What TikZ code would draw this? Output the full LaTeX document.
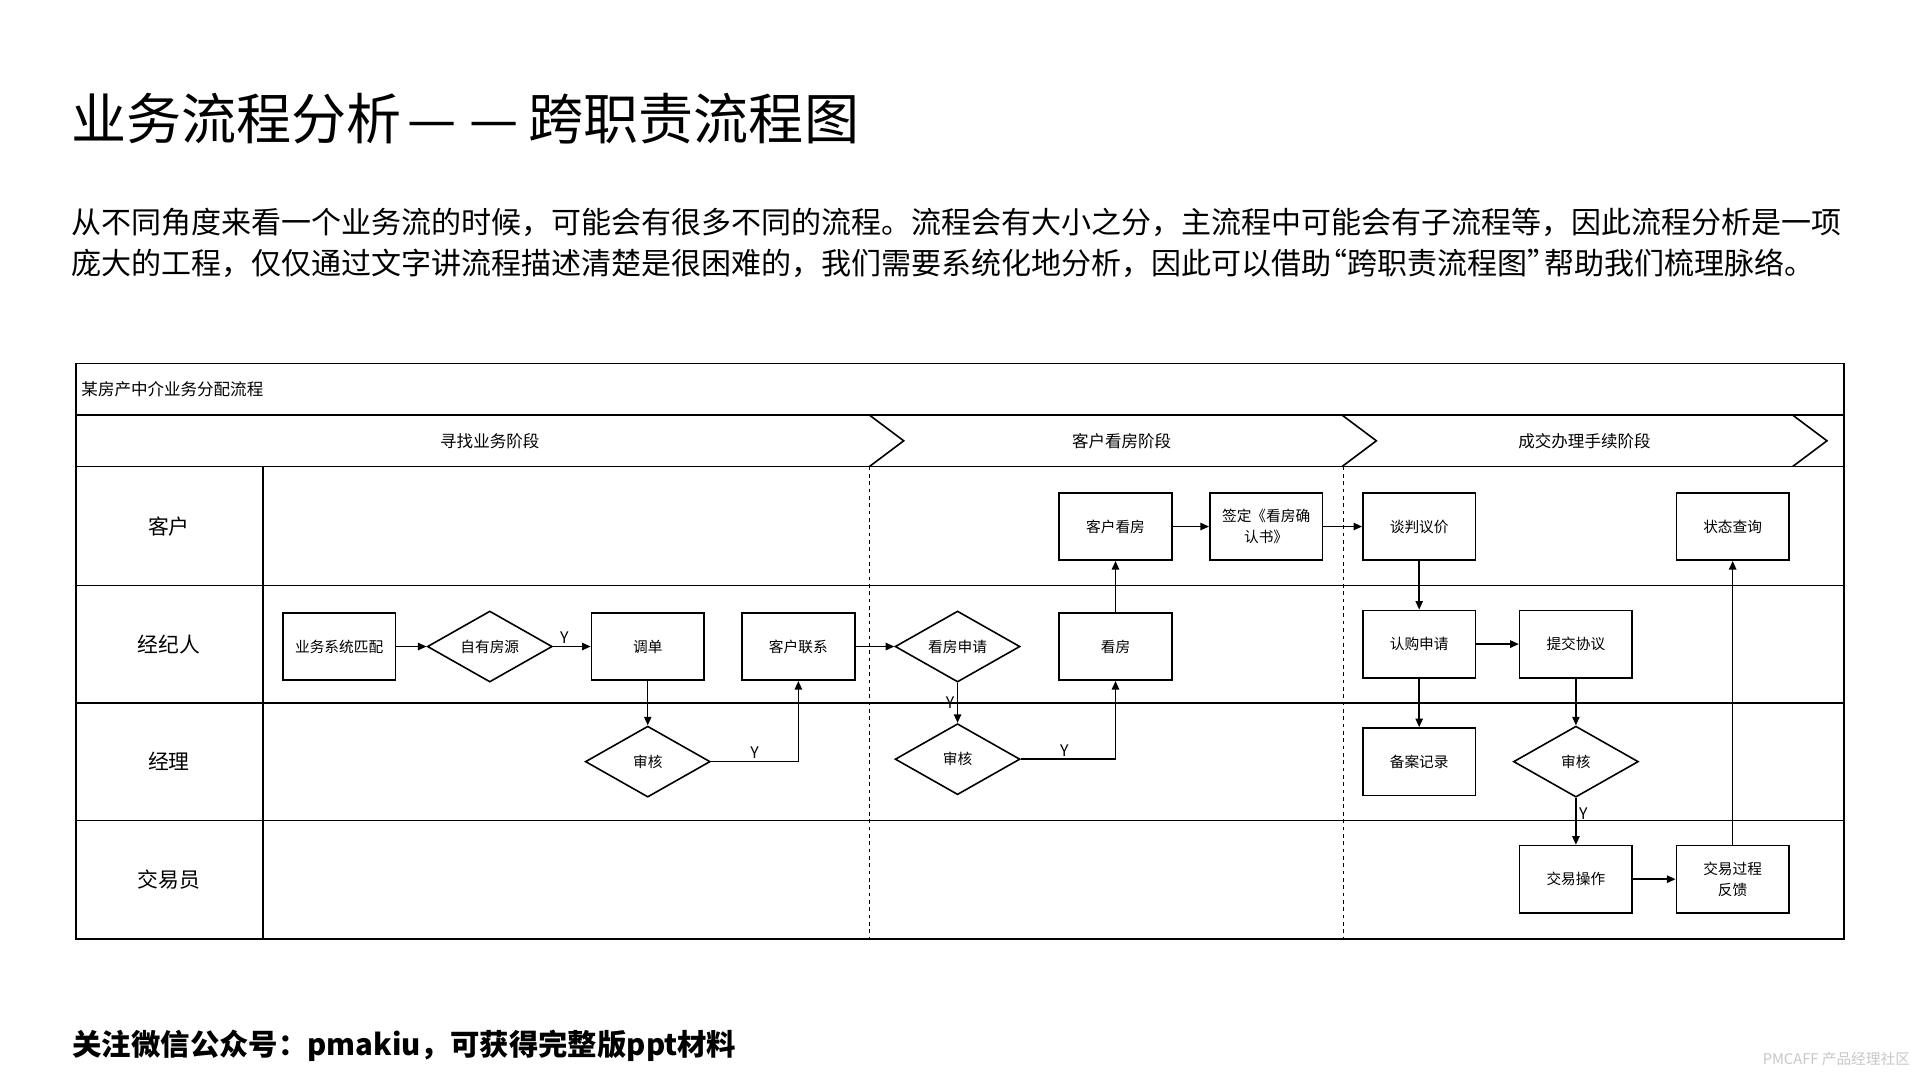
\documentclass[tikz,border=0pt]{standalone}
\usepackage{fontspec}
\setmainfont{Noto Sans CJK SC}
\usetikzlibrary{positioning, shapes.geometric, arrows.meta}
\tikzset{
    Arrow/.style = {
        line width=1.2pt,
        -{Triangle[length=7pt, width=6pt]}
    },
    task/.style = {draw, line width=1.3pt, minimum width=92pt, minimum height=55pt,
        align=center, inner sep=2pt, font=\fontsize{12}{17}\selectfont},
    check/.style = {draw, diamond, line width=1.3pt, aspect=1.76, inner sep=0pt,
        minimum width=102pt, minimum height=58pt, font=\fontsize{12}{15}\selectfont},
    lanename/.style = {font=\fontsize{17}{20}\selectfont},
    phasename/.style = {font=\fontsize{13.5}{16}\selectfont},
    frameline/.style = {line width=1.3pt},
    yes/.style = {inner sep=2pt, font=\fontsize{13}{15}\selectfont}
}

\begin{document}
\begin{tikzpicture}[x=1pt, y=-1pt]
    \useasboundingbox (0,0) rectangle (1568,882);
    % heading and text
    \node[anchor=west, inner sep=0, font=\fontsize{45}{50}\selectfont] (title) at (58,97) {业务流程分析\kern5pt—\kern10pt—\kern8pt跨职责流程图};
    \node[anchor=west, inner sep=0, font=\fontsize{24.5}{30}\selectfont] (intro1) at (58,182) {从不同角度来看一个业务流的时候，可能会有很多不同的流程。流程会有大小之分，主流程中可能会有子流程等，因此流程分析是一项};
    \node[anchor=west, inner sep=0, font=\fontsize{24.5}{30}\selectfont] (intro2) at (58,215) {庞大的工程，仅仅通过文字讲流程描述清楚是很困难的，我们需要系统化地分析，因此可以借助\kern-11pt“跨职责流程图”\kern-11pt帮助我们梳理脉络。};

    % swimlane frame
    \draw[frameline] (62,297) rectangle (1506,767);
    \draw[frameline] (62,339) -- (1506,339);
    \draw[frameline] (62,381) -- (1506,381);
    \foreach \ly in {478,574,670}
        \draw[frameline] (62,\ly) -- (1506,\ly);
    \draw[frameline] (215,381) -- (215,767);
    \foreach \cx in {710,1096,1464}
        \draw[frameline] (\cx,339) -- (\cx+28,360) -- (\cx,381);
    \foreach \dx in {710,1097}
        \draw[dashed] (\dx,381) -- (\dx,767);

    \node[anchor=west, phasename] (flowname) at (63,318) {某房产中介业务分配流程};
    \node[phasename] (phase1) at (400,360) {寻找业务阶段};
    \node[phasename] (phase2) at (916,360) {客户看房阶段};
    \node[phasename] (phase3) at (1294,360) {成交办理手续阶段};

    \node[lanename] (kehu) at (138,430) {客户};
    \node[lanename] (jingji) at (138,526) {经纪人};
    \node[lanename] (jingli) at (138,622) {经理};
    \node[lanename] (jiaoyi) at (138,718) {交易员};

    % steps
    \node[task] (match) at (277,528) {业务系统匹配};
    \node[check] (own) at (400,528) {自有房源};
    \node[task] (order) at (529,528) {调单};
    \node[check] (check1) at (529,622) {审核};
    \node[task] (contact) at (652,528) {客户联系};
    \node[check] (apply) at (782,528) {看房申请};
    \node[check] (check2) at (782,620) {审核};
    \node[task] (show) at (911,528) {看房};
    \node[task] (visit) at (911,430) {客户看房};
    \node[task] (confirm) at (1034,430) {签定《看房确\\认书》};
    \node[task] (nego) at (1159,430) {谈判议价};
    \node[task] (subscribe) at (1159,526) {认购申请};
    \node[task] (record) at (1159,622) {备案记录};
    \node[task] (submit) at (1287,526) {提交协议};
    \node[check] (check3) at (1287,622) {审核};
    \node[task] (trade) at (1287,718) {交易操作};
    \node[task] (feedback) at (1415,718) {交易过程\\反馈};
    \node[task] (status) at (1415,430) {状态查询};

    \draw [Arrow] (match) to (own);
    \draw [Arrow] (own) -- node[yes, above, pos=0.3] {Y} (order);
    \draw [Arrow] (order) to (check1);
    \draw [Arrow] (check1.east) -| node[yes, above, pos=0.25] {Y} (contact.south);
    \draw [Arrow] (contact) to (apply);
    \draw [Arrow] (apply) -- node[yes, left, pos=0.5] {Y} (check2);
    \draw [Arrow] (check2.east) -| node[yes, above, pos=0.23] {Y} (show.south);
    \draw [Arrow] (show) to (visit);
    \draw [Arrow] (visit) to (confirm);
    \draw [Arrow] (confirm) to (nego);
    \draw [Arrow] (nego) to (subscribe);
    \draw [Arrow] (subscribe) to (submit);
    \draw [Arrow] (subscribe) to (record);
    \draw [Arrow] (submit) to (check3);
    \draw [Arrow] (check3) -- node[yes, right, pos=0.33] {Y} (trade);
    \draw [Arrow] (trade) to (feedback);
    \draw [Arrow] (feedback) to (status);

    % footer
    \node[anchor=west, inner sep=0, font=\bfseries\fontsize{24}{28}\selectfont] (footer) at (59,854) {关注微信公众号：pmakiu，可获得完整版ppt材料};
    \node[anchor=east, inner sep=0, text=black!22, font=\fontsize{12}{14}\selectfont] (mark) at (1560,865) {PMCAFF 产品经理社区};
\end{tikzpicture}
\end{document}
